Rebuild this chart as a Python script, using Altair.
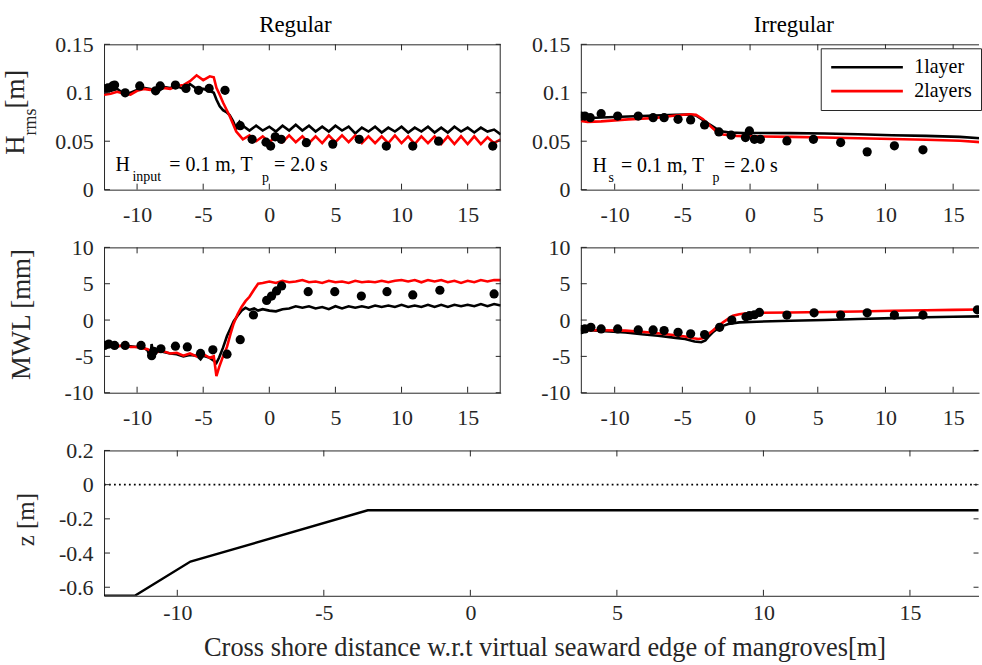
import altair as alt
import pandas as pd

FONT = "Liberation Serif"
AX = "#262626"

# ---------------- tick values ----------------
X_TICKS = [-10, -5, 0, 5, 10, 15]
H_TICKS = [0, 0.05, 0.1, 0.15]
MWL_TICKS = [-10, -5, 0, 5, 10]
Z_TICKS = [-0.6, -0.4, -0.2, 0, 0.2]
MODELS = ["1layer", "2layers"]
COLORS = ["#000000", "#ff0000"]

# ---------------- Regular, Hrms ----------------
REG_H_X = [-12.5, -12.0, -11.5, -11.0, -10.5, -10.0, -9.5, -9.0, -8.5, -8.0,
           -7.5, -7.0, -6.5, -6.0, -5.5, -5.0, -4.5, -4.2, -4.0, -3.75,
           -3.5, -3.25, -3.0, -2.75, -2.5, -2.25, -2.0, -1.5, -1.0, -0.5,
           0.0, 0.5, 1.0, 1.5, 2.0, 2.5, 3.0, 3.5, 4.0, 4.5,
           5.0, 5.5, 6.0, 6.5, 7.0, 7.5, 8.0, 8.5, 9.0, 9.5,
           10.0, 10.5, 11.0, 11.5, 12.0, 12.5, 13.0, 13.5, 14.0, 14.5,
           15.0, 15.5, 16.0, 16.5, 17.0, 17.5]
REG_H_1L = [0.103, 0.102, 0.104, 0.099, 0.100, 0.103, 0.105, 0.104, 0.100, 0.106,
            0.105, 0.107, 0.104, 0.109, 0.104, 0.104, 0.102, 0.100, 0.093, 0.086,
            0.082, 0.080, 0.077, 0.071, 0.063, 0.070, 0.066, 0.061, 0.066, 0.061,
            0.065, 0.060, 0.066, 0.061, 0.067, 0.061, 0.066, 0.060, 0.065, 0.060,
            0.066, 0.061, 0.065, 0.058, 0.064, 0.060, 0.065, 0.059, 0.064, 0.060,
            0.065, 0.059, 0.064, 0.060, 0.065, 0.059, 0.064, 0.059, 0.065, 0.060,
            0.064, 0.059, 0.064, 0.060, 0.062, 0.057]
REG_H_2L = [0.098, 0.099, 0.101, 0.099, 0.098, 0.102, 0.104, 0.103, 0.104, 0.105,
            0.104, 0.107, 0.108, 0.112, 0.118, 0.113, 0.117, 0.116, 0.105, 0.098,
            0.090, 0.083, 0.076, 0.068, 0.060, 0.056, 0.052, 0.056, 0.050, 0.055,
            0.049, 0.055, 0.049, 0.056, 0.049, 0.055, 0.048, 0.055, 0.048, 0.056,
            0.049, 0.056, 0.049, 0.056, 0.048, 0.055, 0.048, 0.055, 0.048, 0.056,
            0.048, 0.055, 0.047, 0.055, 0.048, 0.055, 0.047, 0.055, 0.047, 0.055,
            0.047, 0.055, 0.047, 0.054, 0.048, 0.052]
REG_H_PX = [-12.45, -12.2, -11.85, -11.7, -10.9, -9.8, -8.6, -8.25, -7.1, -6.3,
            -5.35, -4.55, -3.35, -2.2, -1.3, -0.25, 0.1, 0.45, 0.9, 2.8,
            4.8, 6.8, 8.85, 10.85, 12.8, 16.9]
REG_H_PY = [0.104, 0.105, 0.107, 0.108, 0.100, 0.107, 0.102, 0.107, 0.108, 0.1045,
            0.1025, 0.1045, 0.1025, 0.066, 0.052, 0.049, 0.045, 0.0545, 0.052, 0.0485,
            0.047, 0.052, 0.045, 0.045, 0.050, 0.045]

# ---------------- Irregular, Hrms ----------------
IRR_H_X_1L = [-12.5, -11.0, -9.0, -7.0, -5.5, -4.5, -4.0, -3.5, -3.0, -2.5,
              -2.0, -1.5, -0.5, 0.5, 3.0, 5.5, 8.0, 10.5, 13.0, 15.5, 17.5]
IRR_H_1L = [0.0735, 0.0745, 0.0755, 0.0765, 0.0772, 0.0775, 0.0765, 0.0720, 0.0675, 0.0630,
            0.0600, 0.0590, 0.0585, 0.0585, 0.0583, 0.0580, 0.0572, 0.0562, 0.0555, 0.0545, 0.0525]
IRR_H_X_2L = [-12.5, -12.0, -11.0, -9.0, -7.0, -5.5, -4.5, -4.0, -3.5, -3.0,
              -2.5, -2.0, -1.0, 0.5, 3.0, 5.5, 8.0, 10.5, 13.0, 15.5, 17.5]
IRR_H_2L = [0.0710, 0.0700, 0.0705, 0.0725, 0.0740, 0.0765, 0.0778, 0.0772, 0.0730, 0.0665,
            0.0600, 0.0570, 0.0555, 0.0550, 0.0545, 0.0538, 0.0530, 0.0522, 0.0515, 0.0505, 0.0485]
IRR_H_PX = [-12.48, -12.2, -11.8, -11.0, -9.78, -8.26, -7.16, -6.35, -5.32, -4.39,
            -3.36, -2.3, -1.4, -0.34, -0.05, 0.32, 0.76, 2.72, 4.68, 6.69,
            8.65, 10.66, 12.77]
IRR_H_PY = [0.076, 0.076, 0.0743, 0.0784, 0.076, 0.076, 0.0743, 0.0743, 0.0726, 0.072,
            0.0668, 0.0596, 0.0562, 0.0538, 0.0606, 0.052, 0.052, 0.0503, 0.052, 0.0486,
            0.039, 0.0452, 0.0411]

# ---------------- Regular, MWL ----------------
REG_M_X = [-12.5, -12.0, -11.5, -11.0, -10.5, -10.0, -9.5, -9.2, -9.0, -8.9,
           -8.75, -8.5, -8.0, -7.5, -7.0, -6.5, -6.0, -5.5, -5.2, -5.0,
           -4.5, -4.2, -4.0, -3.8, -3.5, -3.2, -2.95, -2.7, -2.4, -2.1,
           -1.8, -1.5, -1.15, -0.85, -0.5, 0.0, 0.5, 1.0, 1.5, 2.0,
           2.5, 3.0, 3.5, 4.0, 4.5, 5.0, 5.5, 6.0, 6.5, 7.0,
           7.5, 8.0, 8.5, 9.0, 9.5, 10.0, 10.5, 11.0, 11.5, 12.0,
           12.5, 13.0, 13.5, 14.0, 14.5, 15.0, 15.5, 16.0, 16.5, 17.0,
           17.5]
REG_M_1L = [-3.5, -3.4, -3.6, -3.5, -3.6, -3.7, -3.8, -4.2, -5.3, -3.3,
            -5.0, -4.2, -4.4, -4.6, -4.7, -5.0, -4.8, -4.9, -5.4, -4.9,
            -5.2, -5.6, -5.9, -5.2, -3.8, -2.2, -1.2, -0.2, 0.6, 1.3,
            1.7, 1.4, 1.6, 1.3, 1.5, 1.3, 1.2, 1.5, 1.6, 1.9,
            1.7, 1.9, 1.6, 1.8, 1.5, 1.9, 1.6, 1.9, 1.7, 1.9,
            1.7, 2.0, 1.8, 2.0, 1.8, 2.1, 1.8, 2.0, 1.8, 2.1,
            1.8, 2.1, 1.8, 2.1, 1.9, 2.1, 1.9, 2.2, 1.9, 2.2,
            2.0]
REG_M_2L = [-3.4, -3.5, -3.6, -3.5, -3.7, -3.7, -3.9, -4.0, -4.2, -4.3,
            -4.4, -4.4, -4.3, -4.6, -4.5, -4.9, -4.6, -5.0, -4.8, -4.7,
            -5.2, -5.0, -7.7, -6.5, -5.0, -3.7, -2.0, -0.5, 0.8, 1.8,
            2.6, 3.2, 4.2, 5.0, 5.1, 5.3, 5.1, 5.4, 5.2, 5.3,
            5.5, 5.2, 5.3, 5.1, 5.4, 5.2, 5.3, 5.1, 5.4, 5.2,
            5.3, 5.2, 5.4, 5.2, 5.4, 5.5, 5.3, 5.5, 5.2, 5.5,
            5.3, 5.5, 5.2, 5.4, 5.1, 5.4, 5.2, 5.5, 5.3, 5.5,
            5.5]
REG_M_PX = [-12.46, -12.14, -11.7, -10.9, -9.7, -8.9, -8.75, -8.2, -7.1, -6.2,
            -5.2, -4.27, -3.2, -2.2, -1.2, -0.2, 0.17, 0.55, 0.93, 2.94,
            4.95, 6.96, 8.9, 10.85, 12.9, 17.0]
REG_M_PY = [-3.5, -3.3, -3.5, -3.5, -3.5, -4.9, -4.3, -3.95, -3.6, -3.7,
            -4.6, -4.1, -4.7, -2.7, 0.7, 2.7, 3.3, 4.0, 4.7, 3.9,
            3.9, 3.3, 3.9, 3.45, 4.1, 3.6]

# ---------------- Irregular, MWL ----------------
IRR_M_X_1L = [-12.5, -11.0, -9.2, -8.0, -6.8, -5.5, -4.8, -4.1, -3.6, -3.3,
              -3.1, -2.7, -2.4, -2.0, -1.6, -0.8, 0.5, 3.0, 5.5, 8.0,
              10.5, 13.0, 15.0, 17.5]
IRR_M_1L = [-1.30, -1.50, -1.70, -1.95, -2.15, -2.45, -2.60, -2.95, -3.05, -2.80,
            -2.36, -1.60, -1.20, -0.80, -0.55, -0.32, -0.23, -0.10, 0.00, 0.14,
            0.27, 0.38, 0.45, 0.52]
IRR_M_X_2L = [-12.5, -11.0, -9.2, -8.0, -6.8, -5.5, -4.8, -4.2, -3.8, -3.5,
              -3.2, -2.75, -2.4, -2.0, -1.6, -1.27, -0.8, -0.42, 0.5, 3.0,
              5.5, 8.0, 10.5, 13.0, 15.0, 17.5]
IRR_M_2L = [-1.36, -1.40, -1.45, -1.60, -1.82, -2.10, -2.27, -2.50, -2.60, -2.50,
            -2.10, -1.45, -0.90, -0.32, 0.20, 0.60, 0.80, 0.90, 1.00, 1.05,
            1.10, 1.18, 1.27, 1.35, 1.40, 1.47]
IRR_M_PX = [-12.48, -12.2, -11.76, -11.0, -9.78, -8.26, -7.16, -6.35, -5.32, -4.39,
            -3.36, -2.25, -1.35, -0.3, -0.05, 0.32, 0.69, 2.72, 4.73, 6.69,
            8.65, 10.66, 12.77, 16.79]
IRR_M_PY = [-1.32, -1.23, -1.0, -1.23, -1.23, -1.36, -1.36, -1.45, -1.68, -1.9,
            -2.0, -1.0, 0.0, 0.45, 0.6, 0.73, 1.05, 0.68, 1.0, 0.68,
            1.0, 0.68, 0.68, 1.41]

# ---------------- bed profile ----------------
BED_X = [-12.5, -11.45, -9.55, -3.5, 17.5]
BED_Z = [-0.65, -0.65, -0.45, -0.15, -0.15]
SWL_X = [-12.5, 17.5]
SWL_Z = [0.0, 0.0]

# ---------------- annotations ----------------
REG_ANN_X = [-11.63, -7.56, 0.35]
REG_ANN_Y = [0.0195, 0.0195, 0.0195]
REG_ANN_T = ["H", "= 0.1 m, T", "= 2.0 s"]
REG_SUB_X = [-10.35, -0.56]
REG_SUB_Y = [0.0092, 0.0075]
REG_SUB_T = ["input", "p"]
IRR_ANN_X = [-11.64, -9.54, -1.93]
IRR_ANN_Y = [0.0178, 0.0178, 0.0178]
IRR_ANN_T = ["H", "= 0.1 m, T", "= 2.0 s"]
IRR_SUB_X = [-10.46, -2.78]
IRR_SUB_Y = [0.0075, 0.0075]
IRR_SUB_T = ["s", "p"]

# ---------------- layout sizes ----------------
W_L, W_R, H_P = 398.5, 400, 146
W_B = 878.5
XDOM_L = [-12.5, 17.5]
XDOM_R = [-12.5, 16.91]
XDOM_B = [-12.5, 17.34]
TK = 6


def lines_df(x1, y1, x2, y2):
    return pd.concat([
        pd.DataFrame({"x": x1, "y": y1, "model": MODELS[0]}),
        pd.DataFrame({"x": x2, "y": y2, "model": MODELS[1]}),
    ], ignore_index=True)


def make_x_axis(pad, title=None):
    kw = dict(values=X_TICKS, labelExpr="'' + datum.value", ticks=False, tickSize=0,
              grid=False, domain=True, domainColor=AX, domainWidth=1,
              labelFont=FONT, labelFontSize=22, labelColor=AX, labelPadding=pad,
              labelBaseline="middle", labelFlush=False, labelOverlap=False)
    if title is None:
        kw["title"] = None
    else:
        kw.update(title=title, titleFont=FONT, titleFontSize=26.5, titleFontWeight="normal",
                  titleColor=AX, titleX=442.5, titleY=52, titleBaseline="middle",
                  titleAlign="center")
    return alt.Axis(**kw)


def make_y_axis(values, title=None, title_y=73, title_x=-82.5, title_size=27):
    kw = dict(values=values, labelExpr="'' + datum.value", ticks=False, tickSize=0,
              grid=False, domain=True, domainColor=AX, domainWidth=1,
              labelFont=FONT, labelFontSize=22, labelColor=AX, labelPadding=11,
              labelFlush=False, labelOverlap=False)
    if title is None:
        kw["title"] = None
    else:
        kw.update(title=title, titleFont=FONT, titleFontSize=title_size, titleFontWeight="normal",
                  titleColor=AX, titleX=title_x, titleY=title_y, titleAngle=270,
                  titleBaseline="middle", titleAlign="center")
    return alt.Axis(**kw)


def panel(W, H, xdom, ydom, yticks, xaxis, yaxis, lines=None, pts=None, legend=None,
          right_frame=True, right_ticks=True, extra=None, title=None, profile=None):
    xs = alt.Scale(domain=xdom, nice=False, zero=False)
    ys = alt.Scale(domain=ydom, nice=False, zero=False)
    X = lambda: alt.X("x:Q", scale=xs, axis=xaxis)
    Y = lambda: alt.Y("y:Q", scale=ys, axis=yaxis)
    layers = []
    one = pd.DataFrame({"a": [0]})
    if profile is not None:
        layers += profile(X, Y)
    if lines is not None:
        layers.append(
            alt.Chart(lines).mark_line(strokeWidth=2.6, clip=True).encode(
                x=X(), y=Y(),
                color=alt.Color("model:N", scale=alt.Scale(domain=MODELS, range=COLORS),
                                legend=legend),
            )
        )
    if pts is not None:
        layers.append(
            alt.Chart(pts).mark_circle(size=86, color="black", opacity=1, clip=True).encode(x=X(), y=Y())
        )
    if extra:
        layers += extra(X, Y)
    xt = pd.DataFrame({"x": X_TICKS})
    yt = pd.DataFrame({"y": yticks})
    tick = dict(color=AX, strokeWidth=1)
    layers.append(alt.Chart(xt).mark_rule(**tick).encode(x=X(), y=alt.value(H), y2=alt.value(H - TK)))
    layers.append(alt.Chart(xt).mark_rule(**tick).encode(x=X(), y=alt.value(0), y2=alt.value(TK)))
    layers.append(alt.Chart(yt).mark_rule(**tick).encode(y=Y(), x=alt.value(0), x2=alt.value(TK)))
    if right_ticks:
        layers.append(alt.Chart(yt).mark_rule(**tick).encode(y=Y(), x=alt.value(W - TK + 1), x2=alt.value(W)))
    layers.append(alt.Chart(one).mark_rule(**tick).encode(x=alt.value(0), x2=alt.value(W), y=alt.value(0.5)))
    if right_frame:
        layers.append(alt.Chart(one).mark_rule(**tick).encode(x=alt.value(W - 0.5), y=alt.value(0), y2=alt.value(H)))
    ch = alt.layer(*layers).properties(width=W, height=H)
    if title is not None:
        ch = ch.properties(title=title)
    return ch


def annot(xs_, ys_, ts_, xs2, ys2, ts2):
    def f(X, Y):
        main = pd.DataFrame({"x": xs_, "y": ys_, "text": ts_})
        sub = pd.DataFrame({"x": xs2, "y": ys2, "text": ts2})
        return [
            alt.Chart(main).mark_text(align="left", baseline="alphabetic", font=FONT, fontSize=20,
                                      color="black").encode(x=X(), y=Y(), text="text:N"),
            alt.Chart(sub).mark_text(align="left", baseline="alphabetic", font=FONT, fontSize=14,
                                     color="black").encode(x=X(), y=Y(), text="text:N"),
        ]
    return f


def hrms_title(X, Y):
    one = pd.DataFrame({"a": [0]})
    base = dict(align="left", baseline="alphabetic", font=FONT, angle=270, color=AX)
    return [
        alt.Chart(one).mark_text(fontSize=27, **base).encode(
            x=alt.value(-80.5), y=alt.value(111), text=alt.value("H")),
        alt.Chart(one).mark_text(fontSize=18, **base).encode(
            x=alt.value(-68), y=alt.value(91.5), text=alt.value("rms")),
        alt.Chart(one).mark_text(fontSize=27, **base).encode(
            x=alt.value(-80.5), y=alt.value(64.5), text=alt.value("[m]")),
    ]


def combine(f1, f2):
    return lambda X, Y: f1(X, Y) + f2(X, Y)


def title_of(text, dx):
    return alt.TitleParams(text, font=FONT, fontSize=23, fontWeight="normal", color="black",
                           anchor="middle", frame="group", dx=dx, offset=-22,
                           baseline="alphabetic")


legend = alt.Legend(title=None, orient="none", legendX=241, legendY=4, direction="vertical",
                    fillColor="white", strokeColor=AX, padding=9, symbolType="stroke",
                    symbolSize=5184, symbolStrokeWidth=2.6, clipHeight=20,
                    labelFont=FONT, labelFontSize=20, labelColor="black", labelOffset=10,
                    rowPadding=4)

TL = panel(W_L, H_P, XDOM_L, [0, 0.15], H_TICKS, make_x_axis(25), make_y_axis(H_TICKS),
           lines=lines_df(REG_H_X, REG_H_1L, REG_H_X, REG_H_2L),
           pts=pd.DataFrame({"x": REG_H_PX, "y": REG_H_PY}),
           extra=combine(annot(REG_ANN_X, REG_ANN_Y, REG_ANN_T, REG_SUB_X, REG_SUB_Y, REG_SUB_T),
                         hrms_title),
           title=title_of("Regular", -7))
TR = panel(W_R, H_P, XDOM_R, [0, 0.15], H_TICKS, make_x_axis(25), make_y_axis(H_TICKS),
           lines=lines_df(IRR_H_X_1L, IRR_H_1L, IRR_H_X_2L, IRR_H_2L),
           pts=pd.DataFrame({"x": IRR_H_PX, "y": IRR_H_PY}), legend=legend,
           right_frame=False, right_ticks=False,
           extra=annot(IRR_ANN_X, IRR_ANN_Y, IRR_ANN_T, IRR_SUB_X, IRR_SUB_Y, IRR_SUB_T),
           title=title_of("Irregular", 14))
ML = panel(W_L, H_P, XDOM_L, [-10, 10], MWL_TICKS, make_x_axis(25),
           make_y_axis(MWL_TICKS, "MWL [mm]", title_y=67),
           lines=lines_df(REG_M_X, REG_M_1L, REG_M_X, REG_M_2L),
           pts=pd.DataFrame({"x": REG_M_PX, "y": REG_M_PY}))
MR = panel(W_R, H_P, XDOM_R, [-10, 10], MWL_TICKS, make_x_axis(25), make_y_axis(MWL_TICKS),
           lines=lines_df(IRR_M_X_1L, IRR_M_1L, IRR_M_X_2L, IRR_M_2L),
           pts=pd.DataFrame({"x": IRR_M_PX, "y": IRR_M_PY}),
           right_frame=False, right_ticks=False)


def bed_profile(X, Y):
    swl = pd.DataFrame({"x": SWL_X, "y": SWL_Z})
    bed = pd.DataFrame({"x": BED_X, "y": BED_Z})
    return [
        alt.Chart(swl).mark_line(color="black", strokeWidth=1.8, strokeDash=[1.8, 3.2], clip=True).encode(x=X(), y=Y()),
        alt.Chart(bed).mark_line(color="black", strokeWidth=2.4, clip=True).encode(x=X(), y=Y()),
    ]


BOT = panel(W_B, H_P, XDOM_B, [-0.65, 0.2], Z_TICKS,
            make_x_axis(17, "Cross shore distance w.r.t virtual seaward edge of mangroves[m]"),
            make_y_axis(Z_TICKS, "z [m]", title_y=69, title_x=-78.5, title_size=25),
            right_frame=False, right_ticks=True, profile=bed_profile)

row1 = alt.hconcat(TL, TR, spacing=80, bounds="flush").resolve_scale(color="independent").resolve_legend(color="independent")
row2 = alt.hconcat(ML, MR, spacing=80, bounds="flush").resolve_scale(color="independent").resolve_legend(color="independent")

chart = (
    alt.vconcat(row1, row2, BOT, spacing=11)
    .resolve_scale(color="independent")
    .resolve_legend(color="independent")
    .properties(padding={"left": 1.5, "top": 13, "right": 0, "bottom": 0})
    .configure(font=FONT,
               locale={"number": {"decimal": ".", "thousands": ",", "grouping": [3],
                                  "currency": ["$", ""], "minus": "-"}},
               style={"guide-label": {"font": FONT, "fontSize": 22, "fill": AX},
                      "guide-title": {"font": FONT}})
    .configure_axis(labelFont=FONT, titleFont=FONT, labelFontSize=22, labelColor=AX)
    .configure_text(font=FONT)
    .configure_view(strokeWidth=0)
)

chart.save("out.html", embed_options={"renderer": "svg", "actions": False})
